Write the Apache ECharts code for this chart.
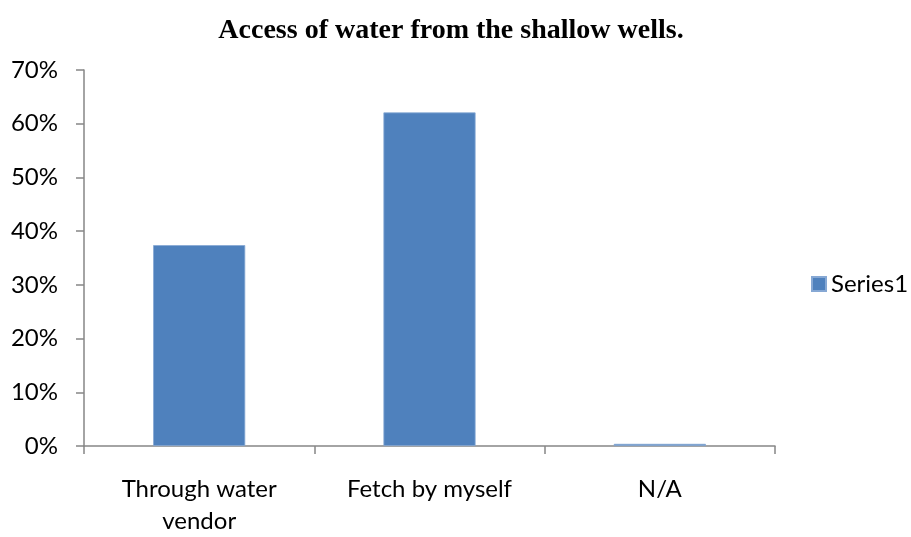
<!DOCTYPE html>
<html>
<head>
<meta charset="utf-8">
<script src="https://cdn.jsdelivr.net/npm/echarts@6/dist/echarts.min.js"></script>
<style>
  html, body { margin: 0; padding: 0; background: #fff; }
  #chart { width: 911px; height: 537px; }
</style>
</head>
<body>
<div id="chart"></div>
<script>
// Access of water from the shallow wells (share of respondents, %)
const categories = ['Through water\nvendor', 'Fetch by myself', 'N/A'];
const series1 = [37.4, 62.1, 0.4];
const yTicks = { min: 0, max: 70, interval: 10 };

const axisGray = '#868686';
const labelFont = 'Lato, "Open Sans", sans-serif';

const chart = echarts.init(document.getElementById('chart'), null, { renderer: 'canvas' });
chart.setOption({
  animation: false,
  backgroundColor: '#ffffff',
  title: {
    text: 'Access of water from the shallow wells.',
    left: 446, top: 12, textAlign: 'center',
    textStyle: {
      fontFamily: '"Liberation Serif", "Times New Roman", serif',
      fontWeight: 'bold', fontSize: 28, color: '#000'
    }
  },
  legend: {
    data: ['Series1'],
    orient: 'vertical',
    left: 806, top: 267,
    icon: 'rect', itemWidth: 14, itemHeight: 14, itemGap: 4,
    textStyle: { fontFamily: labelFont, fontSize: 24, color: '#000' }
  },
  grid: { left: 84, right: 136, top: 70, bottom: 84, containLabel: false },
  xAxis: {
    type: 'category',
    data: categories,
    boundaryGap: true,
    axisLine: { lineStyle: { color: axisGray, width: 1.5 } },
    axisTick: { show: true, length: 8, alignWithLabel: false, lineStyle: { color: axisGray, width: 1.5 } },
    axisLabel: {
      interval: 0, margin: 27, lineHeight: 32,
      fontFamily: labelFont, fontSize: 24, color: '#000'
    }
  },
  yAxis: {
    type: 'value',
    min: yTicks.min, max: yTicks.max, interval: yTicks.interval,
    axisLine: { show: true, lineStyle: { color: axisGray, width: 1.5 } },
    axisTick: { show: true, length: 8, lineStyle: { color: axisGray, width: 1.5 } },
    splitLine: { show: false },
    axisLabel: {
      margin: 26, formatter: '{value}%',
      fontFamily: labelFont, fontSize: 24, color: '#000'
    }
  },
  series: [{
    name: 'Series1',
    type: 'bar',
    data: series1,
    barWidth: '40%',
    itemStyle: { color: '#4F81BD', borderColor: '#86a8d4', borderWidth: 0.8 }
  }]
});
</script>
</body>
</html>
